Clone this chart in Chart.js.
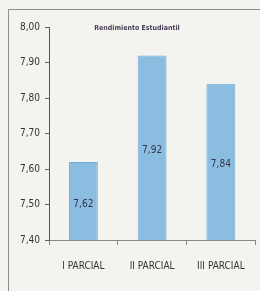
<!DOCTYPE html>
<html>
<head>
<meta charset="utf-8">
<script src="https://cdn.jsdelivr.net/npm/chart.js@4/dist/chart.umd.min.js"></script>
<style>
  html, body { margin: 0; padding: 0; background: #f3f4f0; overflow: hidden; }
  canvas { display: block; }
</style>
</head>
<body>
<canvas id="myChart" width="260" height="291"></canvas>
<script>
const categories = ['I PARCIAL', 'II PARCIAL', 'III PARCIAL'];
const promedios = [7.62, 7.92, 7.84];
const yMin = 7.40;
const yMax = 8.00;
const yStep = 0.10;

const FONT = "'Liberation Sans Narrow', 'DejaVu Sans Condensed', sans-serif";

function comma(v, d) {
    return v.toFixed(d).replace('.', ',');
}

// outer frame of the photographed sheet
const frame = {
    id: 'frame',
    beforeDraw(chart) {
        const c = chart.ctx;
        c.save();
        c.strokeStyle = '#8f8f8f';
        c.lineWidth = 1;
        c.beginPath();
        c.moveTo(8.5, 291);
        c.lineTo(8.5, 9.5);
        c.lineTo(260, 9.5);
        c.stroke();
        c.restore();
    }
};

// title sits inside the plot area, and values are written in the middle of each bar
const extras = {
    id: 'extras',
    afterDraw(chart) {
        const c = chart.ctx;
        const yScale = chart.scales.y;
        const xScale = chart.scales.x;
        c.save();
        c.fillStyle = '#33334a';
        c.font = '10px ' + FONT;
        c.textAlign = 'center';
        c.textBaseline = 'middle';
        promedios.forEach(function (v, i) {
            const top = yScale.getPixelForValue(v);
            const base = yScale.getPixelForValue(yMin);
            c.fillText(comma(v, 2), xScale.getPixelForValue(i), (top + base) / 2 + 3);
        });
        c.font = 'bold 7px ' + FONT;
        c.fillStyle = '#4a3f55';
        c.fillText('Rendimiento Estudiantil', 137, 28);
        c.restore();
    }
};

var ctx = document.getElementById('myChart').getContext('2d');
var chart = new Chart(ctx, {
    type: 'bar',
    data: {
        labels: categories,
        datasets: [{
            data: promedios,
            backgroundColor: '#8bbde0',
            borderColor: '#74aad6',
            borderWidth: 1,
            barPercentage: 0.42,
            categoryPercentage: 1
        }]
    },
    options: {
        responsive: false,
        animation: false,
        layout: { padding: { top: 27, right: 2, bottom: 4, left: 0 } },
        plugins: { legend: { display: false }, tooltip: { enabled: false } },
        scales: {
            x: {
                grid: { drawOnChartArea: false, tickLength: 5, color: '#888' },
                border: { color: '#888' },
                ticks: { color: '#333', font: { family: FONT, size: 10 }, padding: 15 }
            },
            y: {
                min: yMin,
                max: yMax,
                afterFit: function (scale) { scale.width = 49; },
                grid: { drawOnChartArea: false, tickLength: 4, color: '#666' },
                border: { color: '#555' },
                ticks: {
                    stepSize: yStep,
                    color: '#333',
                    font: { family: FONT, size: 10 },
                    padding: 5,
                    callback: function (v) { return comma(v, 2); }
                }
            }
        }
    },
    plugins: [frame, extras]
});
</script>
</body>
</html>
